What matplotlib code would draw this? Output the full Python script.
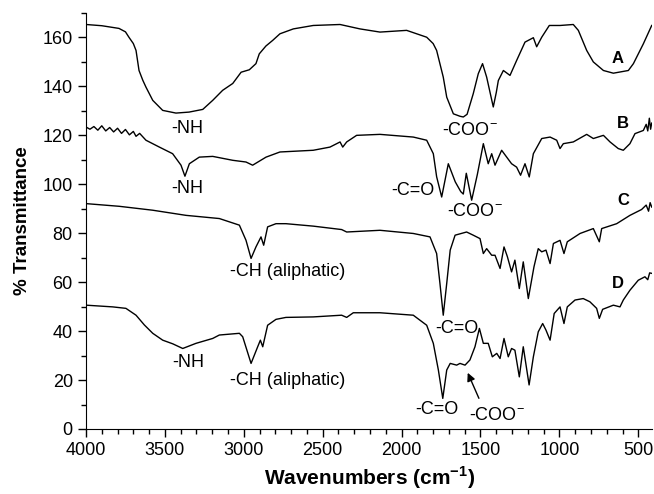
import matplotlib
matplotlib.use("Agg")
import matplotlib.pyplot as plt
from matplotlib.ticker import MultipleLocator

plt.rcParams['font.family'] = ['Liberation Sans', 'DejaVu Sans']
plt.rcParams['mathtext.fontset'] = 'custom'
plt.rcParams['mathtext.rm'] = 'Liberation Sans'
plt.rcParams['mathtext.bf'] = 'Liberation Sans:bold'

# spectrum A
wn_a = [4000, 3900, 3791, 3750, 3727, 3700, 3683, 3664, 3640, 3620, 3577, 3514, 3430,
        3347, 3260, 3197, 3134, 3070, 3017, 2965, 2923, 2902, 2860, 2817, 2771, 2686,
        2560, 2390, 2264, 2137, 1968, 1841, 1800, 1778, 1736, 1714, 1672, 1630, 1609,
        1585, 1546, 1514, 1487, 1461, 1419, 1400, 1387, 1355, 1313, 1271, 1218, 1165,
        1144, 1112, 1064, 996, 912, 880, 827, 785, 721, 658, 563, 531, 468, 415]
t_a = [165.3, 164.8, 163.7, 162.3, 160.0, 157.5, 154.7, 146.5, 142.5, 139.7, 134.3, 130.2,
       129.1, 129.5, 130.6, 134.3, 138.4, 141.2, 145.8, 146.8, 149.3, 153.3, 156.5, 158.8,
       161.5, 163.5, 164.9, 165.3, 163.5, 162.2, 162.9, 160.1, 157.5, 154.7, 143.8, 135.6,
       128.8, 127.8, 127.5, 128.6, 137.0, 145.2, 149.3, 143.8, 131.6, 137.5, 142.4, 146.5,
       144.5, 150.6, 158.1, 159.9, 156.2, 160.1, 164.9, 164.9, 165.3, 162.9, 154.7, 150.0,
       146.5, 145.4, 146.5, 149.3, 157.4, 164.9]

# spectrum B
wn_b = [4000, 3975, 3950, 3925, 3900, 3875, 3850, 3825, 3800, 3775, 3750, 3725, 3700,
        3683, 3660, 3620, 3535, 3451, 3398, 3373, 3345, 3282, 3197, 3070, 2986, 2944,
        2859, 2771, 2560, 2454, 2390, 2373, 2348, 2285, 2137, 1926, 1841, 1799, 1778,
        1746, 1704, 1660, 1625, 1609, 1590, 1556, 1520, 1482, 1451, 1429, 1408, 1366,
        1334, 1303, 1271, 1246, 1218, 1191, 1165, 1112, 1059, 1017, 996, 975, 912, 827,
        785, 721, 679, 627, 595, 553, 521, 468, 450, 440, 430, 422, 415]
t_b = [123.4, 122.5, 123.6, 122.1, 123.9, 121.8, 123.2, 121.4, 122.9, 120.8, 122.4, 120.2,
       121.6, 119.6, 120.8, 118.0, 115.2, 112.5, 107.8, 103.3, 108.4, 111.1, 111.4, 109.8,
       109.1, 107.8, 111.1, 113.2, 113.9, 115.2, 117.3, 115.2, 117.3, 120.0, 120.4, 119.3,
       118.0, 112.5, 103.1, 94.8, 108.4, 101.0, 97.0, 96.0, 104.5, 93.5, 104.0, 116.6, 108.4,
       112.5, 107.8, 113.9, 111.1, 108.4, 107.0, 103.7, 108.4, 103.0, 112.5, 118.7, 119.3,
       118.0, 114.6, 116.6, 117.3, 120.4, 118.7, 120.0, 117.3, 114.6, 113.9, 116.6, 120.7,
       122.0, 124.5, 121.8, 127.0, 122.5, 125.0]

# spectrum C
wn_c = [4000, 3789, 3577, 3366, 3155, 3028, 2986, 2954, 2923, 2891, 2874, 2849, 2796,
        2733, 2560, 2380, 2348, 2137, 1926, 1820, 1778, 1757, 1736, 1714, 1692, 1661,
        1588, 1546, 1503, 1482, 1461, 1429, 1408, 1376, 1351, 1330, 1303, 1282, 1254,
        1229, 1197, 1161, 1134, 1112, 1085, 1059, 1038, 996, 971, 950, 869, 785, 747,
        732, 637, 553, 479, 450, 435, 425, 415]
t_c = [92.1, 91.0, 89.4, 87.3, 86.0, 83.3, 77.1, 69.7, 74.4, 78.5, 75.1, 82.6, 83.9,
       83.9, 82.9, 81.5, 80.5, 81.2, 79.9, 78.5, 71.7, 59.5, 46.5, 59.5, 73.1, 79.2, 80.5,
       79.2, 77.8, 71.7, 73.7, 71.0, 71.0, 65.6, 74.4, 70.5, 64.2, 69.0, 57.4, 68.3, 53.3,
       66.3, 73.7, 72.4, 73.1, 67.6, 75.8, 77.1, 71.7, 76.5, 79.9, 81.9, 76.5, 81.9, 83.9,
       87.3, 89.7, 91.5, 89.0, 92.5, 90.7]

# spectrum D
wn_d = [4000, 3831, 3747, 3683, 3630, 3577, 3514, 3450, 3387, 3303, 3197, 3155, 3028,
        3007, 2954, 2912, 2895, 2880, 2849, 2796, 2733, 2560, 2380, 2348, 2306, 2137,
        1926, 1841, 1799, 1767, 1739, 1714, 1692, 1651, 1630, 1598, 1567, 1535, 1507,
        1482, 1451, 1425, 1397, 1376, 1351, 1324, 1303, 1282, 1254, 1229, 1192, 1165,
        1134, 1106, 1085, 1059, 1033, 996, 971, 950, 901, 849, 807, 764, 747, 726, 658,
        616, 595, 553, 500, 458, 440, 428, 415]
t_d = [50.6, 49.9, 49.3, 46.5, 42.5, 39.1, 36.3, 34.8, 32.9, 35.0, 37.0, 38.4, 39.1,
       37.7, 26.8, 33.6, 36.3, 33.6, 42.4, 44.8, 45.6, 45.8, 46.5, 45.6, 47.5, 47.5, 46.5,
       42.4, 35.0, 24.1, 12.5, 24.1, 26.8, 26.1, 26.8, 26.1, 28.2, 33.6, 41.1, 35.0, 35.0,
       29.5, 30.9, 28.8, 37.0, 29.5, 32.9, 32.2, 21.3, 33.6, 18.0, 29.5, 39.7, 43.1, 40.4,
       36.3, 47.2, 49.9, 43.1, 49.9, 52.7, 53.3, 52.0, 49.3, 45.2, 48.9, 50.6, 49.9, 52.7,
       56.7, 60.8, 62.2, 61.0, 63.8, 63.6]

series = [(wn_a, t_a), (wn_b, t_b), (wn_c, t_c), (wn_d, t_d)]
curve_names = ['A', 'B', 'C', 'D']
name_pos = [(629, 151.4), (597, 124.9), (597, 93.5), (629, 59.6)]

fig = plt.figure(figsize=(6.54, 4.94), dpi=100)
ax = fig.add_axes([0.1315, 0.1316, 0.8662, 0.8421])

for wn, t in series:
    ax.plot(wn, t, color='black', lw=1.0)

for name, (x, y) in zip(curve_names, name_pos):
    ax.text(x, y, name, fontsize=12, fontweight='bold', ha='center', va='center')

fs = 13
ax.text(3356, 122.7, '-NH', fontsize=fs, ha='center', va='center')
ax.text(3356, 98.2, '-NH', fontsize=fs, ha='center', va='center')
ax.text(3352, 27.0, '-NH', fontsize=fs, ha='center', va='center')
ax.text(1567, 122.0, '-COO$^{-}$', fontsize=fs, ha='center', va='center')
ax.text(1928, 97.6, '-C=O', fontsize=fs, ha='center', va='center')
ax.text(1535, 88.7, '-COO$^{-}$', fontsize=fs, ha='center', va='center')
ax.text(2720, 64.2, '-CH (aliphatic)', fontsize=fs, ha='center', va='center')
ax.text(2720, 20.0, '-CH (aliphatic)', fontsize=fs, ha='center', va='center')
ax.text(1651, 41.1, '-C=O', fontsize=fs, ha='center', va='center')
ax.text(1778, 7.8, '-C=O', fontsize=fs, ha='center', va='center')
ax.text(1397, 5.7, '-COO$^{-}$', fontsize=fs, ha='center', va='center')
ax.annotate('', xy=(1588, 24.0), xytext=(1503, 11.5),
            arrowprops=dict(arrowstyle='-|>', color='black', lw=1.0, mutation_scale=12))

ax.set_xlim(4000, 410)
ax.set_ylim(0, 170)
ax.xaxis.set_major_locator(MultipleLocator(500))
ax.xaxis.set_minor_locator(MultipleLocator(100))
ax.yaxis.set_major_locator(MultipleLocator(20))
ax.yaxis.set_minor_locator(MultipleLocator(10))
ax.tick_params(which='major', direction='out', length=6, width=1, labelsize=13)
ax.tick_params(which='minor', direction='out', length=3.5, width=1)
ax.spines['top'].set_visible(False)
ax.spines['right'].set_visible(False)

ax.set_xlabel('Wavenumbers (cm$^{\\mathbf{-1}}$)', fontsize=15, fontweight='bold', labelpad=4)
ax.set_ylabel('% Transmittance', fontsize=13.5, fontweight='bold', labelpad=8)

fig.savefig('out.png', dpi=100)
